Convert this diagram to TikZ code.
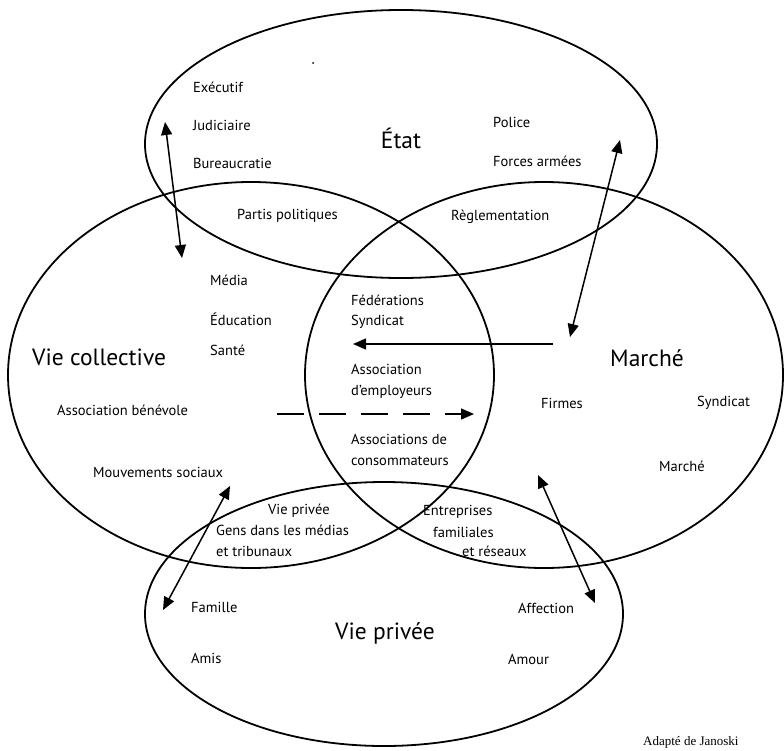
\documentclass[tikz,border=0pt]{standalone}
\usepackage{fontspec}
\setmainfont{PT Sans}
\newfontfamily\capfont{Liberation Serif}
\usetikzlibrary{arrows.meta}
\begin{document}
\begin{tikzpicture}[x=1pt,y=-1pt,
  zone/.style={line width=1.8pt},
  lbl/.style={font=\fontsize{14.5}{17}\selectfont, anchor=west, inner sep=0pt},
  biglbl/.style={font=\fontsize{23.5}{27}\selectfont, inner sep=0pt},
  link/.style={line width=1.5pt, {Triangle[length=13pt,width=11pt]}-{Triangle[length=13pt,width=11pt]}},
  onelink/.style={line width=1.5pt, -{Triangle[length=13pt,width=11pt]}},
  dashlink/.style={line width=1.5pt, dash pattern=on 27pt off 15pt, -{Triangle[length=13pt,width=11pt]}}
]
\useasboundingbox (0,0) rectangle (784,750);
% spheres
\draw[zone] (401,144) ellipse [x radius=256, y radius=134];
\draw[zone] (251,375) ellipse [x radius=243, y radius=193];
\draw[zone] (544,375) ellipse [x radius=239, y radius=193];
\draw[zone] (384,614) ellipse [x radius=239, y radius=132];
\fill (313,63) circle (1pt);
% État
\node[biglbl] (etat) at (401,138) {État};
\node[lbl] (exec) at (193,87) {Exécutif};
\node[lbl] (jud) at (193,125) {Judiciaire};
\node[lbl] (bur) at (193,163) {Bureaucratie};
\node[lbl] (pol) at (493,122) {Police};
\node[lbl] (fa) at (493,161) {Forces armées};
\node[lbl] (pp) at (237,216) {Partis politiques};
\node[lbl] (regl) at (451,217) {Règlementation};
% Vie collective
\node[biglbl, anchor=west] (vc) at (32,357) {Vie collective};
\node[lbl] (media) at (210,280) {Média};
\node[lbl] (educ) at (210,319) {Éducation};
\node[lbl] (sante) at (210,350) {Santé};
\node[lbl] (ab) at (57,410) {Association bénévole};
\node[lbl] (ms) at (93,472) {Mouvements sociaux};
% centre
\node[lbl] (fed) at (351,300) {Fédérations};
\node[lbl] (syn1) at (351,322) {Syndicat};
\node[lbl] (ae1) at (351,369) {Association};
\node[lbl] (ae2) at (351,392) {d’employeurs};
\node[lbl] (ac1) at (351,439) {Associations de};
\node[lbl] (ac2) at (351,461) {consommateurs};
% Marché
\node[biglbl, anchor=west] (mar) at (610,358) {Marché};
\node[lbl] (firmes) at (541,403) {Firmes};
\node[lbl] (syn2) at (697,403) {Syndicat};
\node[lbl] (mar2) at (659,466) {Marché};
% overlaps with Vie privée
\node[lbl] (vp1) at (268,511) {Vie privée};
\node[lbl] (gens) at (216,530) {Gens dans les médias};
\node[lbl] (trib) at (216,551) {et tribunaux};
\node[lbl] (ent) at (423,512) {Entreprises};
\node[lbl] (fam2) at (433,532) {familiales};
\node[lbl] (res) at (462,551) {et réseaux};
% Vie privée
\node[biglbl, anchor=west] (vp) at (335,633) {Vie privée};
\node[lbl] (famille) at (191,607) {Famille};
\node[lbl] (amis) at (191,658) {Amis};
\node[lbl] (aff) at (518,608) {Affection};
\node[lbl] (amour) at (508,659) {Amour};
% source
\node[font=\capfont\fontsize{13}{15}\selectfont, anchor=base west, inner sep=0pt] (src) at (643,745) {Adapté de Janoski};
% arrows
\coordinate (a1) at (165,122); \coordinate (b1) at (182,258);
\coordinate (a2) at (620,140); \coordinate (b2) at (570,337);
\coordinate (a3) at (553,344); \coordinate (b3) at (353,344);
\coordinate (a4) at (277,414); \coordinate (b4) at (474,414);
\coordinate (a5) at (230,486); \coordinate (b5) at (163,610);
\coordinate (a6) at (538,475); \coordinate (b6) at (595,603);
\draw[link] (a1) -- (b1);
\draw[link] (a2) -- (b2);
\draw[onelink] (a3) -- (b3);
\draw[dashlink] (a4) -- (b4);
\draw[link] (a5) -- (b5);
\draw[link] (a6) -- (b6);
\end{tikzpicture}
\end{document}
